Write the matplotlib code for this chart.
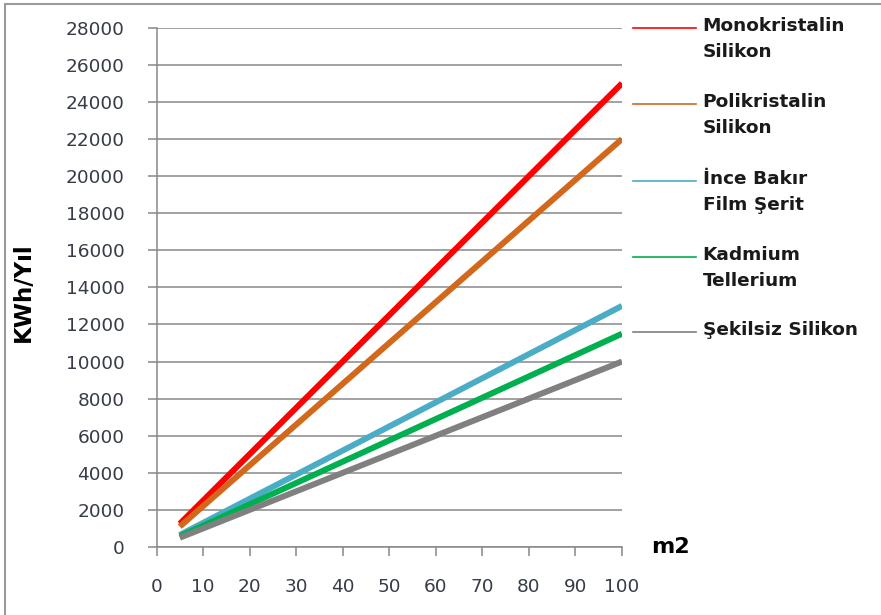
import numpy as np
import matplotlib
matplotlib.use("Agg")
import matplotlib.pyplot as plt
from matplotlib.patches import Rectangle

# alan (m2) ve yıllık üretim (kWh/yıl)
alan = [5, 100]
monokristalin = [1250, 25000]
polikristalin = [1100, 22000]
ince_bakir = [650, 13000]
kadmium = [575, 11500]
sekilsiz = [500, 10000]

seriler = [monokristalin, polikristalin, ince_bakir, kadmium, sekilsiz]
etiketler = ["Monokristalin\nSilikon", "Polikristalin\nSilikon",
             "İnce Bakır\nFilm Şerit", "Kadmium\nTellerium", "Şekilsiz Silikon"]
renkler = ["#FF0000", "#D2681C", "#4BACC6", "#00B050", "#808080"]

yticks = list(range(0, 28001, 2000))
xticks = list(range(0, 101, 10))

W, H = 881, 615
fig = plt.figure(figsize=(W / 100, H / 100), dpi=100)
fig.patch.set_facecolor("white")

# dış çerçeve
fig.add_artist(Rectangle((5 / W, -0.1), 1.2, 1 - 4 / H + 0.1, transform=fig.transFigure,
                         fill=False, ec="#9a9a9a", lw=1.5))

x0, x1 = 156.5, 622
y0, y1 = 547, 27.7
ax = fig.add_axes([x0 / W, 1 - y0 / H, (x1 - x0) / W, (y0 - y1) / H])

grid = "#888888"
for s in ["top", "right"]:
    ax.spines[s].set_visible(False)
for s in ["left", "bottom"]:
    ax.spines[s].set_color(grid)
    ax.spines[s].set_linewidth(1.1)

ax.set_xlim(0, 100)
ax.set_ylim(0, 28000)
ax.set_yticks(yticks)
ax.set_xticks(xticks)
ax.yaxis.grid(True, color=grid, lw=1.1)
ax.set_axisbelow(True)
ax.tick_params(axis="both", colors=grid, length=6.5, width=1.1, direction="out",
               labelcolor="#363c48", labelsize=13.3)
ax.tick_params(axis="y", pad=16.5)
ax.tick_params(axis="x", pad=15.5)

for seri, renk in zip(seriler, renkler):
    ax.plot(alan, seri, color=renk, lw=4.3, solid_capstyle="butt", zorder=3)

ax.text(-0.285, 0.49, "KWh/Yıl", transform=ax.transAxes, rotation=90,
        ha="center", va="center", fontsize=16.5, fontweight="bold", color="black")
ax.text(1.105, 0.0, "m2", transform=ax.transAxes, ha="center", va="center",
        fontsize=16, fontweight="bold", color="black")

# açıklama
ly = [28, 104, 181, 257, 332]
for yp, etiket, renk in zip(ly, etiketler, renkler):
    fy = (y0 - yp) / (y0 - y1)
    ax.plot([1.023, 1.160], [fy, fy], transform=ax.transAxes, color=renk,
            lw=1.2, clip_on=False)
    ax.annotate(etiket, xy=(1.173, fy), xycoords="axes fraction",
                xytext=(0, 11), textcoords="offset pixels", va="top", ha="left",
                fontsize=13.3, fontweight="bold", color="#1a1a1a", linespacing=1.6)

fig.savefig("out.png", dpi=100)
